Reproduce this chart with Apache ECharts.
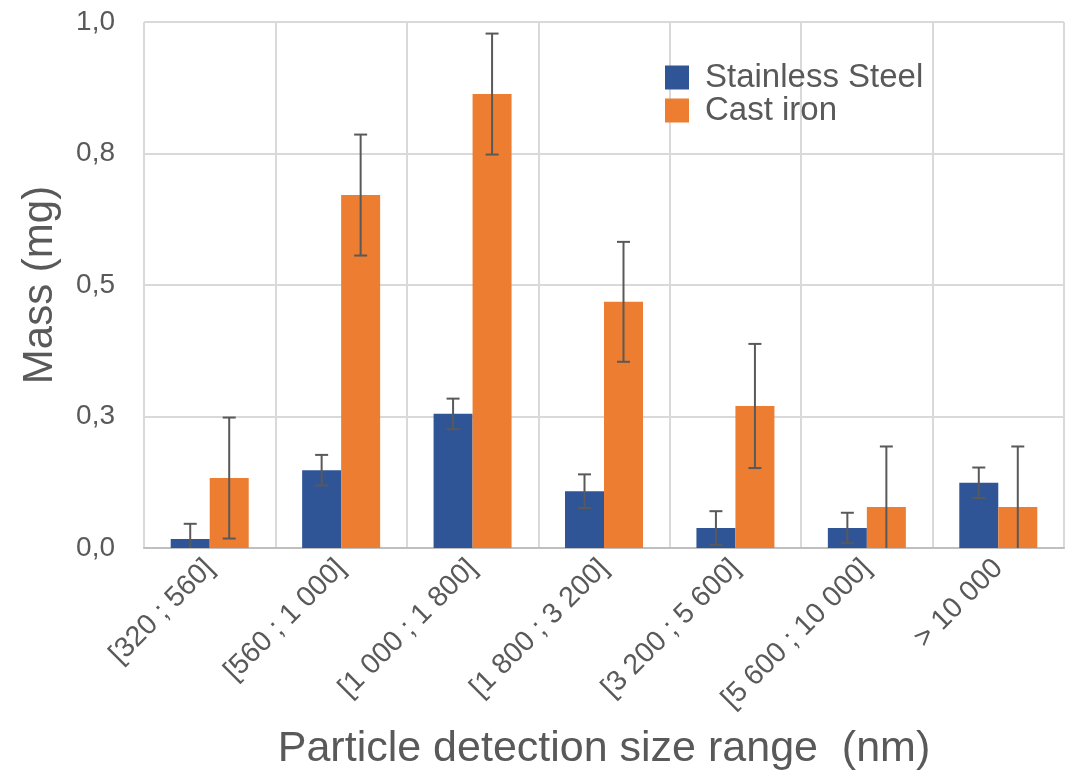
<!DOCTYPE html>
<html>
<head>
<meta charset="utf-8">
<script src="https://cdn.jsdelivr.net/npm/echarts@6/dist/echarts.min.js"></script>
<style>
html,body{margin:0;padding:0;background:#fff;}
#chart{width:1076px;height:779px;}
</style>
</head>
<body>
<div id="chart"></div>
<script>
var categories = ['[320 ; 560]', '[560 ; 1 000]', '[1 000 ; 1 800]', '[1 800 ; 3 200]', '[3 200 ; 5 600]', '[5 600 ; 10 000]', '> 10 000'];
var seriesNames = ['Stainless Steel', 'Cast iron'];
var steelValues = [0.017, 0.148, 0.255, 0.108, 0.038, 0.038, 0.124];
var steelErrors = [0.029, 0.029, 0.029, 0.032, 0.032, 0.029, 0.029];
var ironValues = [0.133, 0.671, 0.863, 0.468, 0.270, 0.078, 0.078];
var ironErrors = [0.115, 0.115, 0.115, 0.114, 0.118, 0.115, 0.115];
var yTicks = {min: 0, max: 1, interval: 0.25};

var FONT = 'Liberation Sans, Arial, sans-serif';
var TEXT = '#595959';
var BAR_W = 39;

function errData(vals, errs) {
  return vals.map(function (v, i) { return [i, v, errs[i]]; });
}
function errSeries(name, vals, errs, offset) {
  return {
    type: 'custom',
    name: name + ' error',
    clip: true,
    z: 10,
    silent: true,
    data: errData(vals, errs),
    encode: {x: 0, y: 1},
    renderItem: function (params, api) {
      var i = api.value(0), v = api.value(1), e = api.value(2);
      var hi = api.coord([i, v + e]);
      var lo = api.coord([i, v - e]);
      var x = hi[0] + offset;
      var cap = 6.5;
      var st = {stroke: '#595959', lineWidth: 2};
      return {
        type: 'group',
        children: [
          {type: 'line', shape: {x1: x, y1: hi[1], x2: x, y2: lo[1]}, style: st},
          {type: 'line', shape: {x1: x - cap, y1: hi[1], x2: x + cap, y2: hi[1]}, style: st},
          {type: 'line', shape: {x1: x - cap, y1: lo[1], x2: x + cap, y2: lo[1]}, style: st}
        ]
      };
    }
  };
}

var chart = echarts.init(document.getElementById('chart'));
chart.setOption({
  backgroundColor: '#ffffff',
  animation: false,
  textStyle: {fontFamily: FONT, color: TEXT},
  grid: {left: 144, right: 12, top: 22, bottom: 231, containLabel: false},
  legend: {
    data: seriesNames,
    orient: 'vertical',
    left: 660,
    top: 56,
    itemWidth: 24,
    itemHeight: 24,
    itemGap: 0,
    icon: 'rect',
    textStyle: {fontFamily: FONT, fontSize: 33, color: TEXT, lineHeight: 32, padding: [0, 0, 0, 11]}
  },
  xAxis: {
    type: 'category',
    data: categories,
    name: 'Particle detection size range  (nm)',
    nameLocation: 'middle',
    nameGap: 180,
    nameTextStyle: {fontFamily: FONT, fontSize: 43, color: TEXT},
    axisLine: {show: true, lineStyle: {color: '#BFBFBF', width: 2}},
    axisTick: {show: false},
    axisLabel: {rotate: 45, fontFamily: FONT, fontSize: 28.5, color: TEXT, margin: 16, interval: 0},
    splitLine: {show: true, lineStyle: {color: '#D9D9D9', width: 2}}
  },
  yAxis: {
    type: 'value',
    min: yTicks.min,
    max: yTicks.max,
    interval: yTicks.interval,
    name: 'Mass (mg)',
    nameLocation: 'middle',
    nameGap: 83,
    nameTextStyle: {fontFamily: FONT, fontSize: 42, color: TEXT},
    axisLine: {show: false},
    axisTick: {show: false},
    axisLabel: {
      fontFamily: FONT, fontSize: 28, color: TEXT, margin: 29,
      formatter: function (v) { return v.toFixed(1).replace('.', ','); }
    },
    splitLine: {show: true, lineStyle: {color: '#D9D9D9', width: 2}}
  },
  series: [
    {name: seriesNames[0], type: 'bar', data: steelValues, barWidth: BAR_W, barGap: '0%', itemStyle: {color: '#2F5597'}},
    {name: seriesNames[1], type: 'bar', data: ironValues, barWidth: BAR_W, barGap: '0%', itemStyle: {color: '#ED7D31'}},
    errSeries(seriesNames[0], steelValues, steelErrors, -BAR_W / 2),
    errSeries(seriesNames[1], ironValues, ironErrors, BAR_W / 2)
  ]
});
</script>
</body>
</html>
